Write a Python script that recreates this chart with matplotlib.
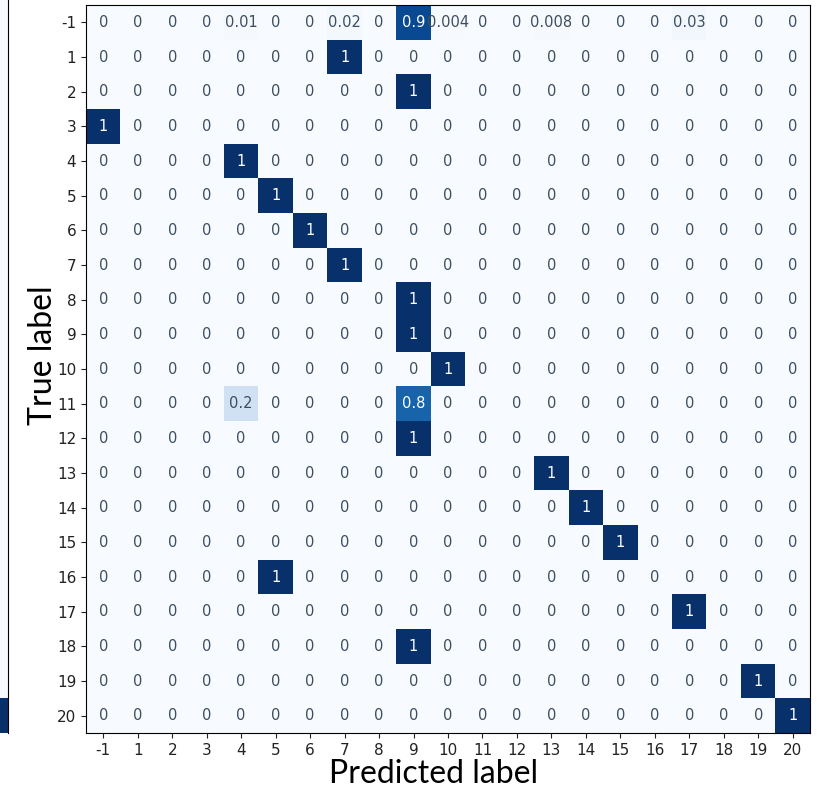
import numpy as np
import matplotlib.pyplot as plt

labels = ['-1'] + [str(i) for i in range(1, 21)]

# confusion matrix rows (normalized), order follows labels
cm_rows = [
    [0, 0, 0, 0, 0.01, 0, 0, 0.02, 0, 0.9, 0.004, 0, 0, 0.008, 0, 0, 0, 0.03, 0, 0, 0],
    [0, 0, 0, 0, 0, 0, 0, 1, 0, 0, 0, 0, 0, 0, 0, 0, 0, 0, 0, 0, 0],
    [0, 0, 0, 0, 0, 0, 0, 0, 0, 1, 0, 0, 0, 0, 0, 0, 0, 0, 0, 0, 0],
    [1, 0, 0, 0, 0, 0, 0, 0, 0, 0, 0, 0, 0, 0, 0, 0, 0, 0, 0, 0, 0],
    [0, 0, 0, 0, 1, 0, 0, 0, 0, 0, 0, 0, 0, 0, 0, 0, 0, 0, 0, 0, 0],
    [0, 0, 0, 0, 0, 1, 0, 0, 0, 0, 0, 0, 0, 0, 0, 0, 0, 0, 0, 0, 0],
    [0, 0, 0, 0, 0, 0, 1, 0, 0, 0, 0, 0, 0, 0, 0, 0, 0, 0, 0, 0, 0],
    [0, 0, 0, 0, 0, 0, 0, 1, 0, 0, 0, 0, 0, 0, 0, 0, 0, 0, 0, 0, 0],
    [0, 0, 0, 0, 0, 0, 0, 0, 0, 1, 0, 0, 0, 0, 0, 0, 0, 0, 0, 0, 0],
    [0, 0, 0, 0, 0, 0, 0, 0, 0, 1, 0, 0, 0, 0, 0, 0, 0, 0, 0, 0, 0],
    [0, 0, 0, 0, 0, 0, 0, 0, 0, 0, 1, 0, 0, 0, 0, 0, 0, 0, 0, 0, 0],
    [0, 0, 0, 0, 0.2, 0, 0, 0, 0, 0.8, 0, 0, 0, 0, 0, 0, 0, 0, 0, 0, 0],
    [0, 0, 0, 0, 0, 0, 0, 0, 0, 1, 0, 0, 0, 0, 0, 0, 0, 0, 0, 0, 0],
    [0, 0, 0, 0, 0, 0, 0, 0, 0, 0, 0, 0, 0, 1, 0, 0, 0, 0, 0, 0, 0],
    [0, 0, 0, 0, 0, 0, 0, 0, 0, 0, 0, 0, 0, 0, 1, 0, 0, 0, 0, 0, 0],
    [0, 0, 0, 0, 0, 0, 0, 0, 0, 0, 0, 0, 0, 0, 0, 1, 0, 0, 0, 0, 0],
    [0, 0, 0, 0, 0, 1, 0, 0, 0, 0, 0, 0, 0, 0, 0, 0, 0, 0, 0, 0, 0],
    [0, 0, 0, 0, 0, 0, 0, 0, 0, 0, 0, 0, 0, 0, 0, 0, 0, 1, 0, 0, 0],
    [0, 0, 0, 0, 0, 0, 0, 0, 0, 1, 0, 0, 0, 0, 0, 0, 0, 0, 0, 0, 0],
    [0, 0, 0, 0, 0, 0, 0, 0, 0, 0, 0, 0, 0, 0, 0, 0, 0, 0, 0, 1, 0],
    [0, 0, 0, 0, 0, 0, 0, 0, 0, 0, 0, 0, 0, 0, 0, 0, 0, 0, 0, 0, 1],
]
cm = np.array(cm_rows)

# right edge of a neighbouring matrix that got cropped in the screenshot
edge_col = [0] * 20 + [1]

fig = plt.figure(figsize=(8.2, 7.91), dpi=100)
ax = fig.add_axes([86 / 820, 1 - 733 / 791, 724 / 820, 728 / 791])

ax.imshow(cm, cmap='Blues', vmin=0, vmax=1, aspect='auto', interpolation='nearest')
n = len(labels)
for i in range(n):
    for j in range(n):
        v = cm[i, j]
        txt = '0' if v == 0 else format(v, '.2g')
        col = 'white' if v > 0.5 else '#3e4e60'
        ax.text(j, i, txt, ha='center', va='center', color=col, fontsize=10.5,
                family='DejaVu Sans')

ax.set_xticks(range(n))
ax.set_xticklabels(labels, family='DejaVu Sans')
ax.set_yticks(range(n))
ax.set_yticklabels(labels, family='DejaVu Sans')
ax.tick_params(labelsize=11, colors='#222222')
ax.set_xlabel('Predicted label', fontsize=23, family='Lato')
ax.set_ylabel('True label', fontsize=23, family='Lato')
ax.xaxis.set_label_coords(0.4807, -0.036)
ax.yaxis.set_label_coords(-0.039, 0.519)

ax2 = fig.add_axes([0, 1 - 733 / 791, 8 / 820, 733 / 791])
ax2.imshow(np.array(edge_col)[:, None], cmap='Blues', vmin=0, vmax=1, aspect='auto',
           extent=(-0.5, 0.5, 20.5, -0.64))
ax2.set_xticks([])
ax2.set_yticks([])
for s in ['left', 'top', 'bottom']:
    ax2.spines[s].set_visible(False)

plt.savefig('out.png', dpi=100)
